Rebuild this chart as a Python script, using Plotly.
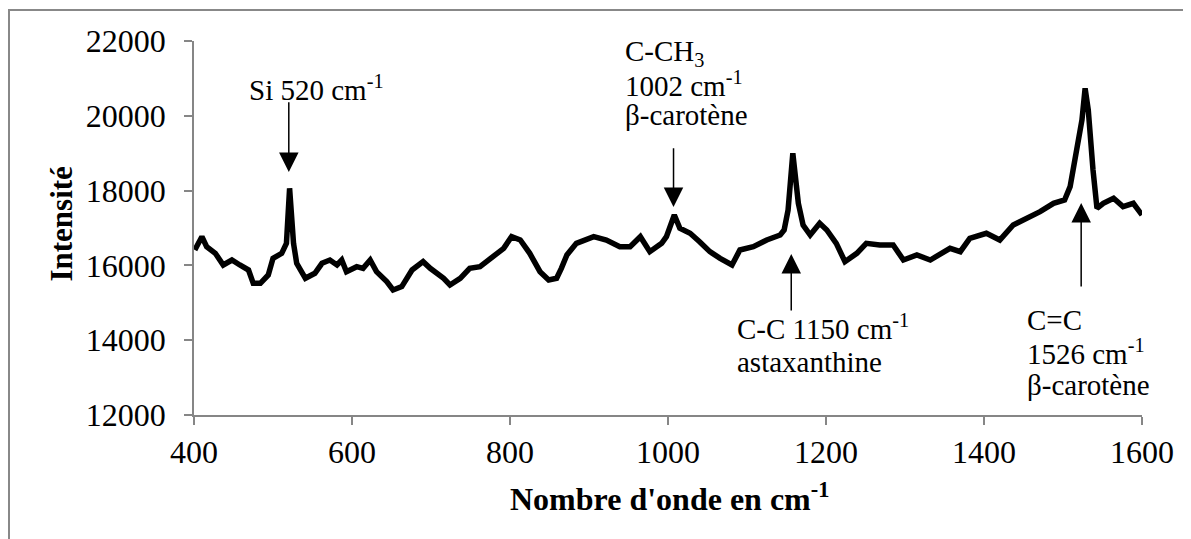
import plotly.graph_objects as go

# Raman spectrum
wavenumber = [401, 410, 416, 427, 437, 448, 458, 469, 475, 484, 494, 500, 511, 517, 521,
              526, 530, 541, 553, 562, 572, 581, 587, 593, 606, 614, 623, 631, 644, 652,
              663, 676, 690, 699, 716, 724, 737, 749, 762, 775, 792, 802, 813, 825, 838,
              849, 859, 865, 872, 884, 889, 897, 906, 922, 939, 952, 965, 977, 992, 998,
              1008, 1015, 1028, 1040, 1053, 1066, 1081, 1091, 1108, 1125, 1142, 1147, 1152,
              1158, 1165, 1171, 1180, 1192, 1201, 1213, 1224, 1239, 1251, 1268, 1285, 1298,
              1315, 1332, 1348, 1357, 1370, 1382, 1403, 1420, 1437, 1454, 1471, 1488, 1502,
              1509, 1517, 1524, 1528, 1532, 1538, 1543, 1551, 1564, 1576, 1589, 1600]
intensity = [16412, 16768, 16500, 16323, 16011, 16144, 16011, 15877, 15521, 15521, 15743,
             16190, 16323, 16590, 18061, 16590, 16056, 15655, 15789, 16056, 16144, 16011,
             16144, 15832, 15966, 15922, 16144, 15832, 15566, 15342, 15432, 15877, 16100,
             15922, 15655, 15476, 15655, 15922, 15966, 16190, 16457, 16768, 16679, 16323,
             15832, 15610, 15655, 15922, 16278, 16590, 16634, 16724, 16768, 16679, 16500,
             16500, 16768, 16367, 16590, 16768, 17348, 16991, 16858, 16634, 16367, 16190,
             16011, 16412, 16500, 16679, 16813, 16946, 17481, 19000, 17660, 17080, 16813,
             17125, 16946, 16590, 16100, 16323, 16590, 16545, 16545, 16144, 16278, 16144,
             16323, 16457, 16367, 16720, 16858, 16679, 17080, 17259, 17437, 17660, 17749,
             18105, 19000, 19888, 20735, 20155, 18550, 17526, 17660, 17794, 17570, 17660,
             17348]

x_ticks = [400, 600, 800, 1000, 1200, 1400, 1600]
y_ticks = [12000, 14000, 16000, 18000, 20000, 22000]

FONT = "Liberation Serif, Times New Roman, serif"
AXIS_COLOR = "#868686"

fig = go.Figure()
fig.add_trace(go.Scatter(x=wavenumber, y=intensity, mode="lines",
                         line=dict(color="black", width=5.5), showlegend=False,
                         hoverinfo="x+y"))

axis_common = dict(showgrid=False, zeroline=False, showline=True, linecolor=AXIS_COLOR,
                   linewidth=1.5, ticks="outside", ticklen=8, tickcolor=AXIS_COLOR,
                   tickwidth=1.5, tickfont=dict(family=FONT, size=32, color="black"))

fig.update_xaxes(range=[400, 1600], tickvals=x_ticks,
                 ticktext=[str(v) for v in x_ticks], **axis_common)
fig.update_yaxes(range=[12000, 22000], tickvals=y_ticks,
                 ticktext=[str(v) for v in y_ticks], ticklabelstandoff=12, **axis_common)

ann = []
def text(x, y, t, anchor="left", size=29):
    ann.append(dict(x=x, y=y, xref="x", yref="y", text=t, showarrow=False,
                    xanchor=anchor, yanchor="middle",
                    font=dict(family=FONT, size=size, color="black")))

def arrow(x, y_tip, y_tail):
    ann.append(dict(x=x, y=y_tip, ax=x, ay=y_tail, xref="x", yref="y", axref="x",
                    ayref="y", text="", showarrow=True, arrowhead=2, arrowsize=2.6,
                    arrowwidth=1.5, arrowcolor="black"))

text(467, 20743, "Si 520 cm<sup>-1</sup>")
arrow(520, 18500, 20400)

text(943, 21679, "C-CH<sub>3</sub>")
text(943, 20850, "1002 cm<sup>-1</sup>")
text(943, 20021, "β-carotène")
arrow(1007, 17560, 19170)

text(1085, 14353, "C-C 1150 cm<sup>-1</sup>")
text(1085, 13417, "astaxanthine")
arrow(1156, 16305, 14754)

text(1452, 14540, "C=C")
text(1452, 13684, "1526 cm<sup>-1</sup>")
text(1452, 12802, "β-carotène")
arrow(1523, 17668, 15396)

# axis titles
ann.append(dict(x=0.502, y=-0.219, xref="paper", yref="paper", showarrow=False,
                text="<b>Nombre d'onde en cm<sup>-1</sup></b>", xanchor="center",
                yanchor="middle", font=dict(family=FONT, size=32, color="black")))
ann.append(dict(x=-0.140, y=0.51, xref="paper", yref="paper", showarrow=False,
                text="<b>Intensité</b>", textangle=-90, xanchor="center",
                yanchor="middle", font=dict(family=FONT, size=31, color="black")))

# page body has an 8px margin, so the figure is shifted by 8px
fig.update_layout(
    width=1183, height=531,
    margin=dict(l=186, r=49, t=33, b=124),
    paper_bgcolor="white", plot_bgcolor="white",
    annotations=ann,
    shapes=[dict(type="rect", xref="paper", yref="paper",
                 x0=-185 / 948, x1=1100 / 948,
                 y0=-200 / 374, y1=405 / 374,
                 line=dict(color="#888888", width=2), fillcolor="rgba(0,0,0,0)",
                 layer="below")],
)

fig.write_html("out.html")
